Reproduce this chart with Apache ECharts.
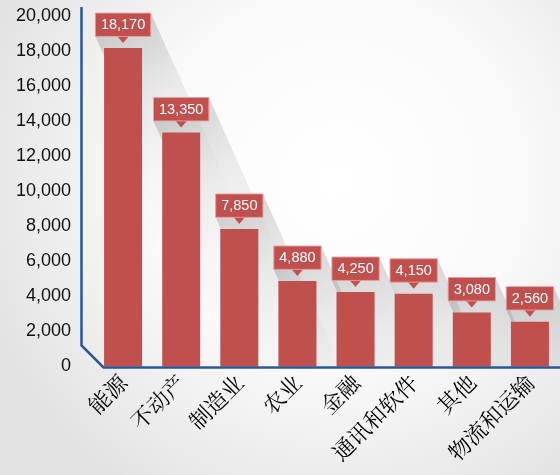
<!DOCTYPE html>
<html>
<head>
<meta charset="utf-8">
<script src="https://cdn.jsdelivr.net/npm/echarts@6/dist/echarts.min.js"></script>
<style>
  html, body { margin: 0; padding: 0; }
  #chart { width: 560px; height: 475px; }
</style>
</head>
<body>
<div id="chart"></div>
<script>
// Industry totals
const categories = ['能源', '不动产', '制造业', '农业', '金融', '通讯和软件', '其他', '物流和运输'];
const values = [18170, 13350, 7850, 4880, 4250, 4150, 3080, 2560];
const yMin = 0;
const yMax = 20000;
const yStep = 2000;

// Layout / style constants
const GRID_LEFT = 94;
const GRID_TOP = 16;
const GRID_BOTTOM = 108.5;
const GRID_RIGHT = 1;
const BAR_W = 38;
const BAR_COLOR = '#c0504d';
const AXIS_COLOR = '#2b5797';
const CALLOUT_FONT = '14.5px "Liberation Sans", Arial, sans-serif';
const BOX_PAD_X = 5.5;
const BOX_H = 23.4;
const TRI_H = 6.6;
const TRI_HALF = 6;
const TIP_GAP = 5;
const SHADOW_K = 0.45;   // horizontal drift per vertical pixel of the cast shadow
const SHADOW_LEN = 200;  // vertical distance over which the shadow fades out

const measureCtx = document.createElement('canvas').getContext('2d');
measureCtx.font = CALLOUT_FONT;
function textWidth(s) { return measureCtx.measureText(s).width; }

// Geometry of the value callout that sits above a bar
function callout(api) {
  const i = api.value(0);
  const v = api.value(1);
  const topPt = api.coord([i, v]);
  const basePt = api.coord([i, 0]);
  const text = echarts.format.addCommas(v);
  const w = textWidth(text) + 2 * BOX_PAD_X;
  const cx = topPt[0];
  const tipY = topPt[1] - TIP_GAP;
  const boxBottom = tipY - TRI_H;
  const boxTop = boxBottom - BOX_H;
  return { cx, barTop: topPt[1], baseY: basePt[1], text, w, tipY, boxBottom, boxTop };
}

// Long diagonal shadow cast by bar + callout toward the lower right
function renderShadow(params, api) {
  const c = callout(api);
  const left = c.cx - c.w / 2, right = c.cx + c.w / 2;
  const barL = c.cx - BAR_W / 2;
  const dy = c.baseY - c.boxTop;
  const gy = c.boxBottom + (barL - left) / SHADOW_K;
  const pts = [
    [left, c.boxTop],
    [right, c.boxTop],
    [right + SHADOW_K * dy, c.baseY],
    [barL, c.baseY],
    [barL, Math.min(gy, c.baseY)],
    [left, c.boxBottom]
  ];
  return {
    type: 'polygon',
    shape: { points: pts },
    style: {
      fill: new echarts.graphic.LinearGradient(
        right, c.boxTop,
        right + SHADOW_K * SHADOW_LEN, c.boxTop + SHADOW_LEN,
        [
          { offset: 0, color: 'rgba(0,0,0,0.15)' },
          { offset: 0.3, color: 'rgba(0,0,0,0.07)' },
          { offset: 0.7, color: 'rgba(0,0,0,0.015)' },
          { offset: 1, color: 'rgba(0,0,0,0)' }
        ], true)
    },
    silent: true
  };
}

// Red value box with a downward pointer
function renderCallout(params, api) {
  const c = callout(api);
  const left = c.cx - c.w / 2;
  return {
    type: 'group',
    children: [
      {
        type: 'polygon',
        shape: { points: [[c.cx - TRI_HALF, c.boxBottom - 0.5], [c.cx + TRI_HALF, c.boxBottom - 0.5], [c.cx, c.tipY]] },
        style: { fill: BAR_COLOR }
      },
      {
        type: 'rect',
        shape: { x: left, y: c.boxTop, width: c.w, height: BOX_H },
        style: { fill: BAR_COLOR, stroke: 'rgba(235,160,158,0.9)', lineWidth: 1 }
      },
      {
        type: 'text',
        style: {
          x: c.cx, y: c.boxTop + BOX_H / 2 + 0.5,
          text: c.text,
          fill: '#ffffff',
          font: CALLOUT_FONT,
          align: 'center',
          verticalAlign: 'middle'
        }
      }
    ]
  };
}

const pairs = values.map((v, i) => [i, v]);

const chart = echarts.init(document.getElementById('chart'), null, { renderer: 'canvas' });

chart.setOption({
  animation: false,
  backgroundColor: {
    type: 'radial', x: 0.6, y: 0.38, r: 0.78,
    colorStops: [
      { offset: 0, color: '#ffffff' },
      { offset: 0.5, color: '#fafafa' },
      { offset: 1, color: '#e3e3e3' }
    ]
  },
  grid: { left: GRID_LEFT, top: GRID_TOP, bottom: GRID_BOTTOM, right: GRID_RIGHT, containLabel: false },
  xAxis: {
    type: 'category',
    data: categories,
    axisLine: { show: false },
    axisTick: { show: false },
    axisLabel: {
      interval: 0,
      rotate: 45,
      margin: 12,
      padding: [20, 0, 0, 0],
      color: '#000000',
      fontSize: 22,
      fontFamily: '"Noto Serif CJK SC", "Noto Sans CJK SC", serif'
    }
  },
  yAxis: {
    type: 'value',
    min: yMin,
    max: yMax,
    interval: yStep,
    axisLine: { show: false },
    axisTick: { show: false },
    splitLine: { show: false },
    axisLabel: {
      margin: 23,
      color: '#111111',
      fontSize: 18,
      fontFamily: '"Liberation Sans", Arial, sans-serif',
      formatter: v => echarts.format.addCommas(v)
    }
  },
  series: [
    {
      type: 'custom',
      z: 1,
      renderItem: renderShadow,
      data: pairs,
      silent: true
    },
    {
      type: 'bar',
      z: 2,
      data: values,
      barWidth: BAR_W,
      itemStyle: { color: BAR_COLOR }
    },
    {
      type: 'custom',
      z: 3,
      renderItem: renderCallout,
      data: pairs,
      silent: true
    }
  ]
});

// Axis frame with a bevelled lower-left corner
const zeroY = chart.convertToPixel({ yAxisIndex: 0 }, 0);
const frameX = GRID_LEFT - 12.5;
const floorY = zeroY + 1;
const bevel = 22;
chart.setOption({
  graphic: [{
    type: 'polyline',
    z: 10,
    shape: {
      points: [
        [frameX, 7],
        [frameX, floorY - bevel],
        [frameX + bevel, floorY],
        [560, floorY]
      ]
    },
    style: { stroke: AXIS_COLOR, lineWidth: 2.5, fill: null, lineJoin: 'miter' },
    silent: true
  }]
});
</script>
</body>
</html>
